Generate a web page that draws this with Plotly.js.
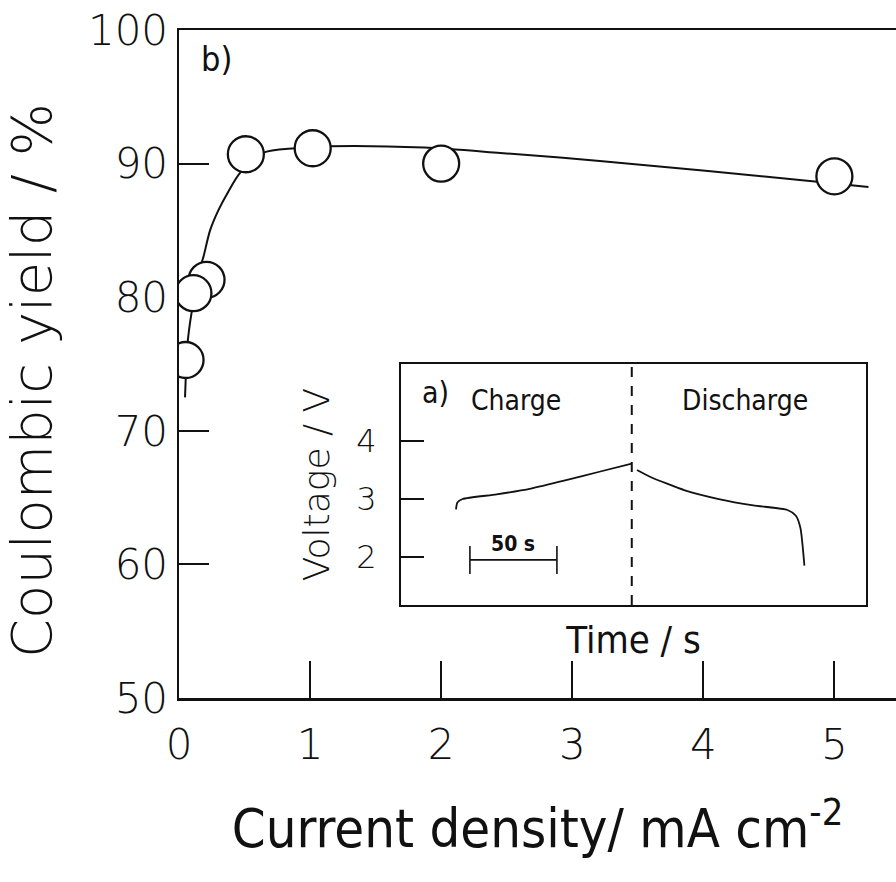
<!DOCTYPE html>
<html>
<head>
<meta charset="utf-8">
<script src="https://cdn.plot.ly/plotly-3.0.1.min.js"></script>
<style>
  html, body { margin: 0; padding: 0; background: #fff; }
  #chart { width: 896px; height: 882px; }
</style>
</head>
<body>
<div id="chart"></div>
<script>
// ---- Main panel b): Coulombic yield vs current density ----
const currentDensity = [0.05, 0.11, 0.21, 0.51, 1.02, 2.0, 5.0];        // mA cm-2
const coulombicYield = [75.3, 80.3, 81.3, 90.7, 91.15, 90.0, 89.05];     // %

// hand-drawn fit curve through the points
const fitCurrent = [0.046, 0.066, 0.097, 0.17, 0.186, 0.237, 0.30, 0.376, 0.466, 0.64, 0.885, 1.15, 1.87, 2.45, 3.21, 4.87, 5.26];
const fitYield   = [72.5, 76.6, 78.9, 82.5, 83.0, 85.0, 86.5, 87.9, 89.3, 90.8, 91.15, 91.3, 91.2, 90.8, 90.2, 88.65, 88.25];

const xTickVals = [0, 1, 2, 3, 4, 5];
const yTickVals = [50, 60, 70, 80, 90, 100];

// ---- Inset a): voltage vs time ----
const chargeTime    = [0, 0.8, 3.8, 23.4, 43, 62.7, 82.4, 101];
const chargeVoltage = [2.82, 2.94, 3.0, 3.08, 3.18, 3.32, 3.47, 3.61];
const dischargeTime    = [104, 111.8, 131.5, 151, 170.8, 190.5, 195.3, 197.9, 200.2];
const dischargeVoltage = [3.50, 3.38, 3.15, 3.0, 2.89, 2.81, 2.71, 2.50, 1.85];
const dividerTime = [101, 101];
const dividerVoltage = [1.172, 5.328];
const scaleBarTime = [8, 58];       // 50 s scale bar
const scaleBarVoltage = [1.95, 1.95];
const insetTickVals = [2, 3, 4];

const ink = '#111';
const digitFont = 'DejaVu Sans, Liberation Sans, sans-serif';
const narrowFont = 'DejaVu Sans Condensed, Liberation Sans Narrow, DejaVu Sans, sans-serif';

const traces = [
  {
    x: fitCurrent, y: fitYield, xaxis: 'x', yaxis: 'y',
    mode: 'lines', line: {color: ink, width: 2, shape: 'spline', smoothing: 0.8},
    hoverinfo: 'skip', showlegend: false
  },
  {
    x: currentDensity.slice().reverse(), y: coulombicYield.slice().reverse(),
    xaxis: 'x', yaxis: 'y', mode: 'markers',
    marker: {symbol: 'circle', size: 36, color: '#fff', line: {color: ink, width: 2.3}},
    showlegend: false
  },
  {
    x: chargeTime, y: chargeVoltage, xaxis: 'x2', yaxis: 'y2',
    mode: 'lines', line: {color: ink, width: 1.8, shape: 'spline', smoothing: 0.6},
    showlegend: false
  },
  {
    x: dischargeTime, y: dischargeVoltage, xaxis: 'x2', yaxis: 'y2',
    mode: 'lines', line: {color: ink, width: 1.8, shape: 'spline', smoothing: 0.6},
    showlegend: false
  },
  {
    x: dividerTime, y: dividerVoltage, xaxis: 'x2', yaxis: 'y2',
    mode: 'lines', line: {color: ink, width: 2, dash: '10px,9px'},
    showlegend: false
  },
  {
    x: scaleBarTime, y: scaleBarVoltage, xaxis: 'x2', yaxis: 'y2',
    mode: 'lines+markers', line: {color: ink, width: 1.6},
    marker: {symbol: 'line-ns-open', size: 20, color: ink, line: {color: ink, width: 1.6}},
    showlegend: false
  }
];

const layout = {
  width: 896, height: 882,
  margin: {l: 179, r: 0, t: 30, b: 184, pad: 0},
  paper_bgcolor: '#fff', plot_bgcolor: 'rgba(0,0,0,0)',
  showlegend: false,
  font: {family: digitFont, color: ink},
  xaxis: {
    domain: [0, 1], range: [0, 5.47], layer: 'below traces',
    showline: true, linecolor: ink, linewidth: 2.5, mirror: true,
    showgrid: false, zeroline: false,
    ticks: 'inside', ticklen: 37, tickwidth: 2, tickcolor: ink,
    tickvals: xTickVals, ticktext: xTickVals.map(String),
    ticklabelstandoff: 8,
    tickfont: {family: digitFont, size: 42, color: ink, weight: 300},
    title: {text: 'Current density/ mA cm<sup>-2</sup>', standoff: 42,
            font: {family: narrowFont, size: 54, color: ink}}
  },
  yaxis: {
    domain: [0, 1], range: [50, 100], layer: 'below traces',
    showline: true, linecolor: ink, linewidth: 2.5,
    showgrid: false, zeroline: false,
    ticks: 'inside', ticklen: 30, tickwidth: 2, tickcolor: ink,
    tickvals: yTickVals, ticktext: yTickVals.map(String),
    ticklabelstandoff: 0,
    tickfont: {family: digitFont, size: 42, color: ink, weight: 300}
  },
  xaxis2: {
    domain: [0.3096, 0.9582], anchor: 'y2', range: [-31.6, 235.6],
    showline: true, linecolor: ink, linewidth: 2, mirror: true,
    showgrid: false, zeroline: false, ticks: '', showticklabels: false,
    title: {text: 'Time / s', standoff: 20, font: {family: narrowFont, size: 38, color: ink}}
  },
  yaxis2: {
    domain: [0.1392, 0.5], anchor: 'x2', range: [1.172, 5.328],
    showline: true, linecolor: ink, linewidth: 2, mirror: true,
    showgrid: false, zeroline: false,
    ticks: 'inside', ticklen: 23, tickwidth: 1.8, tickcolor: ink,
    tickvals: insetTickVals, ticktext: insetTickVals.map(String),
    ticklabelstandoff: 16,
    tickfont: {family: digitFont, size: 32, color: ink, weight: 300},
    title: {text: 'Voltage / V', standoff: 16, font: {family: digitFont, size: 36, color: ink, weight: 300}}
  },
  shapes: [
    {type: 'rect', xref: 'x2 domain', yref: 'y2 domain', x0: 0, x1: 1, y0: 0, y1: 1,
     fillcolor: '#fff', line: {width: 0}, layer: 'below'}
  ],
  annotations: [
    {text: 'Coulombic yield / %', xref: 'paper', yref: 'paper', x: -0.205, y: 0.4746,
     xanchor: 'center', yanchor: 'middle', textangle: -90, showarrow: false,
     font: {family: digitFont, size: 56, color: ink, weight: 300}},
    {text: 'b)', xref: 'paper', yref: 'paper', x: 0.052, y: 0.957,
     xanchor: 'center', yanchor: 'middle', showarrow: false,
     font: {family: narrowFont, size: 34, color: ink}},
    {text: 'a)', xref: 'x2', yref: 'y2', x: -11.5, y: 4.84, showarrow: false,
     xanchor: 'center', yanchor: 'middle',
     font: {family: narrowFont, size: 30, color: ink}},
    {text: 'Charge', xref: 'x2', yref: 'y2', x: 34.5, y: 4.70, showarrow: false,
     xanchor: 'center', yanchor: 'middle',
     font: {family: narrowFont, size: 28, color: ink}},
    {text: 'Discharge', xref: 'x2', yref: 'y2', x: 166, y: 4.70, showarrow: false,
     xanchor: 'center', yanchor: 'middle',
     font: {family: narrowFont, size: 28, color: ink}},
    {text: '<b>50 s</b>', xref: 'x2', yref: 'y2', x: 33, y: 2.22, showarrow: false,
     xanchor: 'center', yanchor: 'middle',
     font: {family: narrowFont, size: 21, color: ink}}
  ]
};

Plotly.newPlot('chart', traces, layout, {staticPlot: true, displayModeBar: false});
</script>
</body>
</html>
